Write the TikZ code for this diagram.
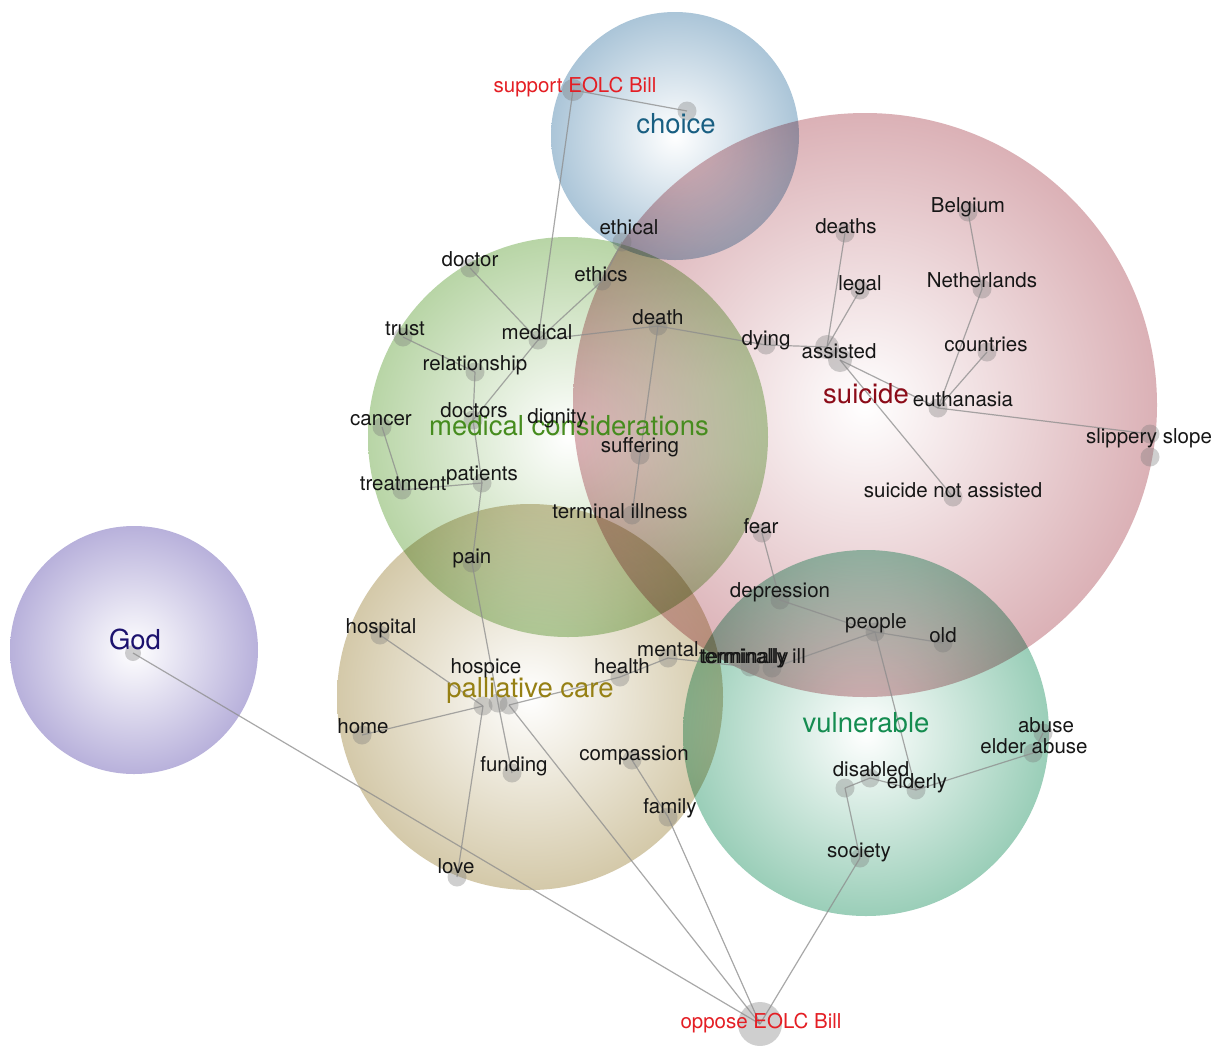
\documentclass[tikz,border=0pt]{standalone}
\usepackage{fontspec}
\setmainfont{TeX Gyre Heros}
\pgfdeclareradialshading{shGod}{\pgfpoint{0bp}{0bp}}{rgb(0bp)=(1,1,1); rgb(25bp)=(0.722,0.694,0.859); rgb(50bp)=(0.569,0.529,0.784)}
\pgfdeclareradialshading{shChoice}{\pgfpoint{0bp}{0bp}}{rgb(0bp)=(1,1,1); rgb(25bp)=(0.671,0.773,0.847); rgb(50bp)=(0.49,0.647,0.765)}
\pgfdeclareradialshading{shSuicide}{\pgfpoint{0bp}{0bp}}{rgb(0bp)=(1,1,1); rgb(25bp)=(0.859,0.694,0.714); rgb(50bp)=(0.784,0.529,0.557)}
\pgfdeclareradialshading{shMedical}{\pgfpoint{0bp}{0bp}}{rgb(0bp)=(1,1,1); rgb(25bp)=(0.722,0.835,0.651); rgb(50bp)=(0.569,0.745,0.463)}
\pgfdeclareradialshading{shPalliative}{\pgfpoint{0bp}{0bp}}{rgb(0bp)=(1,1,1); rgb(25bp)=(0.831,0.788,0.663); rgb(50bp)=(0.737,0.675,0.478)}
\pgfdeclareradialshading{shVulnerable}{\pgfpoint{0bp}{0bp}}{rgb(0bp)=(1,1,1); rgb(25bp)=(0.604,0.808,0.722); rgb(50bp)=(0.392,0.706,0.569)}
\definecolor{edgegray}{RGB}{140,140,140}
\definecolor{dotgray}{RGB}{120,120,120}
\definecolor{labcol}{RGB}{22,22,22}
\definecolor{billred}{RGB}{228,30,36}
\definecolor{godc}{RGB}{28,18,110}
\definecolor{choicec}{RGB}{25,95,130}
\definecolor{suicidec}{RGB}{140,12,25}
\definecolor{medicalc}{RGB}{70,140,30}
\definecolor{palliativec}{RGB}{150,128,20}
\definecolor{vulnerablec}{RGB}{20,140,80}
\begin{document}
\begin{tikzpicture}[x=1pt,y=-1pt,
  edge/.style={draw=edgegray, line width=1.2pt, draw opacity=0.75},
  dot/.style={circle, fill=dotgray, fill opacity=0.35, draw=none, inner sep=0pt, minimum size=19pt},
  bigdot/.style={dot, minimum size=24pt},
  lab/.style={font=\fontsize{20.5}{24}\selectfont, text=labcol, anchor=base, inner sep=0pt},
  redlab/.style={lab, text=billred},
  big/.style={font=\fontsize{27.5}{32}\selectfont, anchor=base, inner sep=0pt}]
\useasboundingbox (0,0) rectangle (1216,1045);
\fill[white] (0,0) rectangle (1216,1045);
% ---------- circles ----------
\begin{scope}[blend mode=multiply]
\shade[shading=shGod] (134,650) circle[radius=124pt];
\shade[shading=shSuicide] (865,405) circle[radius=292pt];
\shade[shading=shChoice] (675,136) circle[radius=124pt];
\shade[shading=shMedical] (568,437) circle[radius=200pt];
\shade[shading=shPalliative] (530,697) circle[radius=193pt];
\shade[shading=shVulnerable] (866,733) circle[radius=183pt];
\end{scope}
% ---------- dots ----------
\node[dot, minimum size=22pt] (dSupport) at (573,90) {};
\node[dot] (dChoice) at (687,111) {};
\node[dot] (dEthical) at (622,242) {};
\node[dot] (dDoctor) at (470,268) {};
\node[dot] (dEthics) at (602,281) {};
\node[dot] (dDeaths) at (845,233) {};
\node[dot] (dBelgium) at (968,212) {};
\node[dot] (dLegal) at (860,290) {};
\node[dot] (dNetherlands) at (982,289) {};
\node[dot] (dTrust) at (403,337) {};
\node[dot] (dMedical) at (538,340) {};
\node[dot] (dDeath) at (658,326) {};
\node[dot] (dDying) at (766,345) {};
\node[bigdot] (dAssistedA) at (827,347) {};
\node[bigdot] (dAssistedB) at (840,360) {};
\node[dot] (dCountries) at (987,352) {};
\node[dot] (dRelationship) at (475,372) {};
\node[dot] (dEuthanasia) at (938,408) {};
\node[dot] (dCancer) at (382,427) {};
\node[dot] (dDoctors) at (473,420) {};
\node[dot, fill opacity=0.12] (dDignity) at (556,426) {};
\node[dot] (dSuffering) at (640,455) {};
\node[dot] (dSlipperyA) at (1150,434) {};
\node[dot] (dSlipperyB) at (1150,457) {};
\node[dot] (dTreatment) at (402,490) {};
\node[dot] (dPatients) at (482,483) {};
\node[dot] (dNotAssisted) at (953,497) {};
\node[dot] (dTerminalIllness) at (632,515) {};
\node[dot] (dFear) at (762,533) {};
\node[dot] (dPain) at (472,563) {};
\node[dot] (dDepression) at (780,600) {};
\node[dot] (dPeople) at (875,632) {};
\node[dot] (dOld) at (943,643) {};
\node[dot] (dHospital) at (380,635) {};
\node[dot] (dHospiceA) at (483,706) {};
\node[dot] (dHospiceB) at (498,703) {};
\node[dot] (dHospiceC) at (509,705) {};
\node[dot] (dHealth) at (620,677) {};
\node[dot] (dMental) at (668,658) {};
\node[dot] (dTermA) at (750,667) {};
\node[dot] (dTermB) at (772,668) {};
\node[dot] (dHome) at (362,735) {};
\node[dot] (dAbuse) at (1043,733) {};
\node[dot] (dElderAbuse) at (1033,753) {};
\node[dot] (dCompassion) at (632,760) {};
\node[dot] (dFunding) at (512,773) {};
\node[dot] (dDisabledA) at (845,788) {};
\node[dot] (dDisabledB) at (870,778) {};
\node[dot] (dElderly) at (916,790) {};
\node[dot] (dFamily) at (668,817) {};
\node[dot] (dSociety) at (860,858) {};
\node[dot] (dLove) at (457,877) {};
\node[dot, minimum size=44pt] (dOppose) at (760,1024) {};
\node[dot, minimum size=16pt] (dGod) at (133,653) {};
% ---------- edges ----------
\foreach \a/\b in {dSupport/dChoice, dSupport/dMedical, dMedical/dDoctor, dMedical/dEthics,
  dEthics/dEthical, dMedical/dDoctors, dMedical/dDeath, dTrust/dRelationship,
  dRelationship/dDoctors, dDoctors/dPatients, dTreatment/dPatients, dCancer/dTreatment,
  dPatients/dPain, dPain/dHospiceB, dDeath/dDying, dDeath/dSuffering,
  dSuffering/dTerminalIllness, dDying/dAssistedA, dAssistedA/dDeaths, dAssistedA/dLegal,
  dAssistedB/dEuthanasia, dAssistedB/dNotAssisted, dBelgium/dNetherlands,
  dNetherlands/dEuthanasia, dCountries/dEuthanasia, dEuthanasia/dSlipperyA,
  dFear/dDepression, dDepression/dPeople, dPeople/dOld, dPeople/dTermB, dPeople/dElderly,
  dElderly/dElderAbuse, dAbuse/dElderAbuse, dDisabledA/dDisabledB, dDisabledB/dElderly,
  dDisabledA/dSociety, dSociety/dOppose, dFamily/dOppose, dCompassion/dFamily,
  dHospiceC/dOppose, dGod/dOppose, dHospiceA/dHospital, dHospiceA/dHome, dHospiceA/dLove,
  dHospiceB/dFunding, dHospiceC/dHealth, dHealth/dMental, dMental/dTermA}
  \draw[edge] (\a.center) -- (\b.center);
% ---------- concept labels ----------
\node[big, text=godc] (tGod) at (135,649) {God};
\node[big, text=choicec] (tChoice) at (676,133) {choice};
\node[big, text=suicidec] (tSuicide) at (866,403) {suicide};
\node[big, text=medicalc] (tMedical) at (569,435) {medical considerations};
\node[big, text=palliativec] (tPalliative) at (530,697) {palliative care};
\node[big, text=vulnerablec] (tVulnerable) at (866,732) {vulnerable};
% ---------- word labels ----------
\node[redlab] (tSupport) at (575,92) {support EOLC Bill};
\node[redlab] (tOppose) at (761,1028) {oppose EOLC Bill};
\node[lab] (tEthical) at (629,234) {ethical};
\node[lab] (tDoctor) at (470,266) {doctor};
\node[lab] (tEthics) at (601,281) {ethics};
\node[lab] (tDeaths) at (846,233) {deaths};
\node[lab] (tBelgium) at (968,212) {Belgium};
\node[lab] (tLegal) at (860,290) {legal};
\node[lab] (tNetherlands) at (982,287) {Netherlands};
\node[lab] (tTrust) at (405,335) {trust};
\node[lab] (tMedicalW) at (537,339) {medical};
\node[lab] (tDeath) at (658,324) {death};
\node[lab] (tDying) at (766,345) {dying};
\node[lab] (tAssisted) at (839,358) {assisted};
\node[lab] (tCountries) at (986,351) {countries};
\node[lab] (tRelationship) at (475,370) {relationship};
\node[lab] (tEuthanasia) at (963,406) {euthanasia};
\node[lab] (tCancer) at (381,425) {cancer};
\node[lab] (tDoctors) at (474,417) {doctors};
\node[lab] (tDignity) at (557,423) {dignity};
\node[lab] (tSuffering) at (640,452) {suffering};
\node[lab] (tSlippery) at (1149,443) {slippery slope};
\node[lab] (tTreatment) at (403,490) {treatment};
\node[lab] (tPatients) at (482,480) {patients};
\node[lab] (tNotAssisted) at (953,497) {suicide not assisted};
\node[lab] (tTerminalIllness) at (620,518) {terminal illness};
\node[lab] (tFear) at (761,533) {fear};
\node[lab] (tPain) at (472,563) {pain};
\node[lab] (tDepression) at (780,597) {depression};
\node[lab] (tPeople) at (876,628) {people};
\node[lab] (tOld) at (943,642) {old};
\node[lab] (tHospital) at (381,633) {hospital};
\node[lab] (tHospice) at (486,673) {hospice};
\node[lab] (tHealth) at (622,673) {health};
\node[lab] (tMental) at (668,656) {mental};
\node[lab, anchor=base west] (tTerminally) at (701,663) {terminally};
\node[lab, anchor=base west] (tTerminallyIll) at (699,663) {terminally ill};
\node[lab] (tHome) at (363,733) {home};
\node[lab] (tAbuse) at (1046,732) {abuse};
\node[lab] (tElderAbuse) at (1034,753) {elder abuse};
\node[lab] (tCompassion) at (634,760) {compassion};
\node[lab] (tFunding) at (514,771) {funding};
\node[lab] (tDisabled) at (871,776) {disabled};
\node[lab] (tElderly) at (917,788) {elderly};
\node[lab] (tFamily) at (670,813) {family};
\node[lab] (tSociety) at (859,857) {society};
\node[lab] (tLove) at (456,873) {love};
\end{tikzpicture}
\end{document}
